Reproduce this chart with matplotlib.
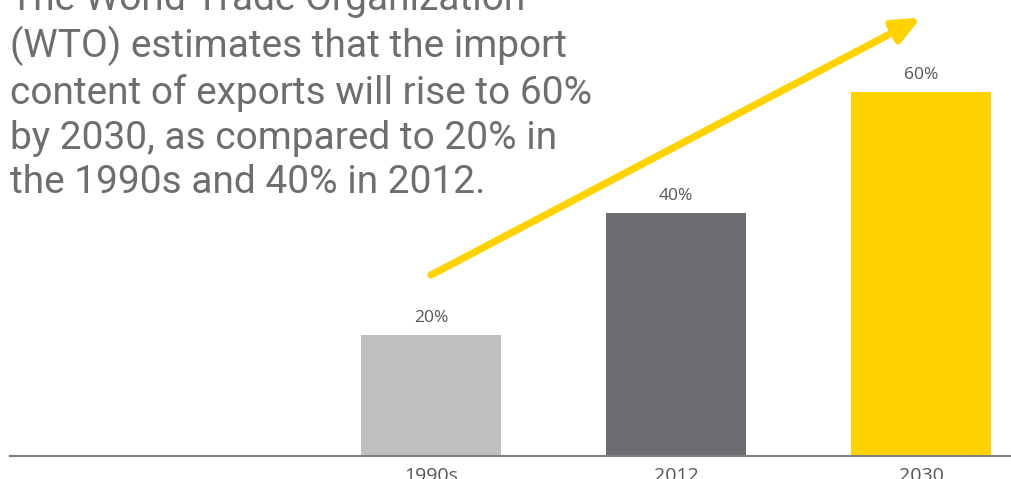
import matplotlib
matplotlib.use("Agg")
import matplotlib.pyplot as plt

categories = ["1990s", "2012", "2030"]
values = [20, 40, 60]
value_labels = ["20%", "40%", "60%"]
bar_colors = ["#BEBFC1", "#6D6E71", "#FFD200"]
caption = ("The World Trade Organization\n"
           "(WTO) estimates that the import\n"
           "content of exports will rise to 60%\n"
           "by 2030, as compared to 20% in\n"
           "the 1990s and 40% in 2012.")

W, H = 1011, 479
fig = plt.figure(figsize=(W / 100, H / 100), dpi=100)
ax = fig.add_axes([10 / W, 23 / H, 1001 / W, 456 / H])

x = list(range(len(categories)))
ax.bar(x, values, width=0.57, color=bar_colors, zorder=2)
for xi, v, lab in zip(x, values, value_labels):
    ax.annotate(lab, (xi, v), xytext=(0, 12), textcoords="offset points",
                ha="center", va="center", fontsize=12.5, color="#555555",
                family=["Open Sans", "DejaVu Sans"])

ax.set_xlim(-1.718, 2.367)
ax.set_ylim(0, 75.1)
for s in ["top", "right", "left"]:
    ax.spines[s].set_visible(False)
ax.spines["bottom"].set_color("#808080")
ax.spines["bottom"].set_linewidth(1.5)
ax.set_yticks([])
ax.set_xticks(x)
ax.set_xticklabels(categories, fontsize=14, color="#555555",
                   family=["Open Sans", "DejaVu Sans"])
ax.tick_params(axis="x", length=0, pad=8)

# trend arrow from 1990s to 2030
ax.annotate("", xy=(2.0, values[2] + 12.2), xytext=(0.0, values[0] + 9.8),
            arrowprops=dict(arrowstyle="-|>,head_length=1.6,head_width=0.7",
                            color="#FFD200", lw=5.2, shrinkA=0, shrinkB=0),
            zorder=3)

fig.text(10 / W, 1 + 19 / H, caption, ha="left", va="top", fontsize=28,
         color="#6D6E71", family=["Roboto", "DejaVu Sans"], weight="normal",
         linespacing=1.26)

fig.savefig("out.png", dpi=100)
